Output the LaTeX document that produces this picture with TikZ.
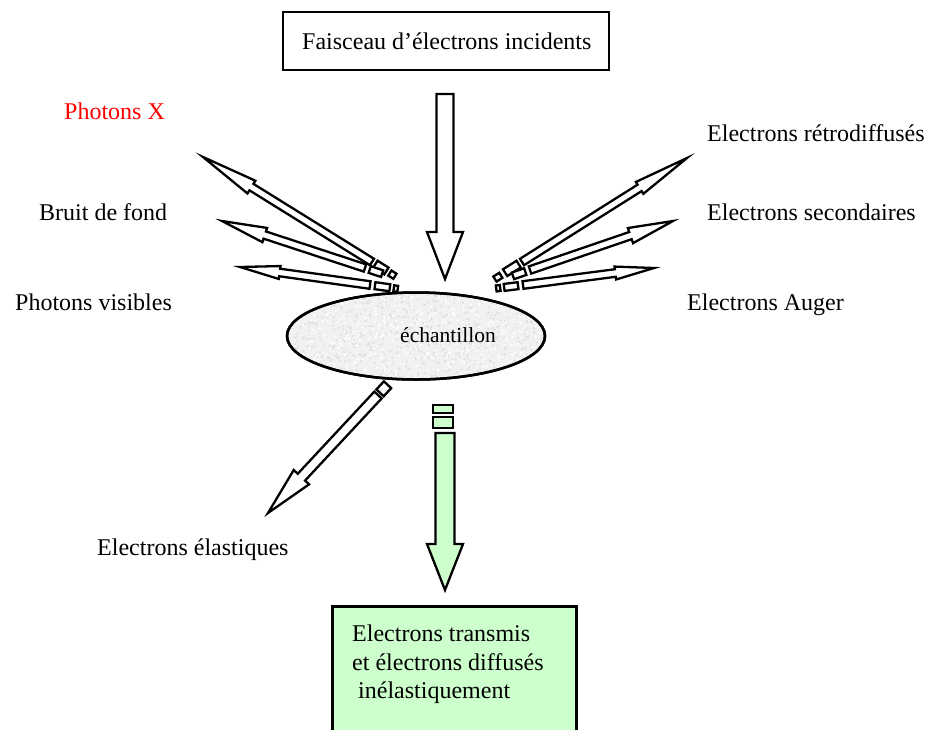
\documentclass[tikz,border=0pt]{standalone}
\usepackage{fontspec}
\setmainfont{Liberation Serif}
\usetikzlibrary{calc,shapes.geometric}
\definecolor{lightgreen}{HTML}{CCFFCC}
\tikzset{
  arr/.style={draw=black, line width=2.3pt, fill=white, line join=miter},
  garr/.style={arr, fill=lightgreen},
  lbl/.style={anchor=base west, inner sep=0pt, font=\fontsize{24}{29}\selectfont},
}
% block arrow: #2 start, #3 tip, #4 shaft half width, #5 head half width, #6 head length
\newcommand\blockarrow[6][arr]{%
  \coordinate (hb) at ($(#3)!#6!(#2)$);
  \path[#1] ($(#2)!#4!90:(#3)$) -- ($(hb)!#4!90:(#3)$) -- ($(hb)!#5!90:(#3)$) -- (#3)
    -- ($(hb)!#5!-90:(#3)$) -- ($(hb)!#4!-90:(#3)$) -- ($(#2)!#4!-90:(#3)$) -- cycle;}
% broken piece behind the start of an arrow: #2 start, #3 tip, #4 #5 distances, #6 half width
\newcommand\fragment[6][arr]{%
  \coordinate (fa) at ($(#2)!-#4!(#3)$);
  \coordinate (fb) at ($(#2)!-#5!(#3)$);
  \path[#1] ($(fa)!#6!90:(#3)$) -- ($(fb)!#6!90:(#3)$) -- ($(fb)!#6!-90:(#3)$) -- ($(fa)!#6!-90:(#3)$) -- cycle;}
\begin{document}
\begin{tikzpicture}[x=1pt,y=-1pt]
\useasboundingbox (0,0) rectangle (932,729);
% top box
\node[draw, line width=2.5pt, minimum width=326pt, minimum height=58pt, inner sep=0pt] (beam) at (446,41) {};
\node[lbl] (beamtxt) at (302,49) {Faisceau d’électrons incidents};
% sample
\node[ellipse, draw, line width=2.5pt, fill=gray!11, minimum width=258pt, minimum height=87pt, inner sep=0pt] (sample) at (416,336) {};
\begin{scope}
  \clip (416,336) ellipse [x radius=127, y radius=42];
  \pgfmathsetseed{7}
  \foreach \i in {1,...,700} {\fill[gray!26] ({416+127*rand},{336+42*rand}) circle (1.1pt);}
  \foreach \i in {1,...,600} {\fill[white] ({416+127*rand},{336+42*rand}) circle (1.1pt);}
\end{scope}
\draw[line width=2.5pt] (sample.center) ellipse [x radius=129, y radius=43.5];
\node[anchor=base west, inner sep=0pt, font=\fontsize{21.5}{26}\selectfont] (samptxt) at (400,342) {échantillon};
% incident arrow
\coordinate (m0) at (445,94);
\coordinate (m1) at (445,279);
\blockarrow{m0}{m1}{8.5pt}{18pt}{47pt}
% left arrows
\coordinate (xs) at (372,262); \coordinate (xt) at (203,157);
\coordinate (bs) at (365,268); \coordinate (bt) at (222,221);
\coordinate (vs) at (370,285); \coordinate (vt) at (240,267);
\blockarrow{xs}{xt}{3.8pt}{7.5pt}{57pt}
\fragment{xs}{xt}{4pt}{17pt}{4pt}
\fragment{xs}{xt}{21pt}{27pt}{3pt}
\blockarrow{bs}{bt}{3.8pt}{7.5pt}{45pt}
\fragment{bs}{bt}{5pt}{18pt}{3.5pt}
\blockarrow{vs}{vt}{3.8pt}{6.5pt}{40pt}
\fragment{vs}{vt}{5pt}{20pt}{3.5pt}
\fragment{vs}{vt}{24pt}{28pt}{3pt}
% right arrows
\coordinate (rs) at (522,262); \coordinate (rt) at (687,158);
\coordinate (ss) at (530,270); \coordinate (st) at (673,221);
\coordinate (as) at (523,285); \coordinate (at) at (654,268);
\blockarrow{rs}{rt}{3.8pt}{7pt}{56pt}
\fragment{rs}{rt}{4pt}{20pt}{4pt}
\fragment{rs}{rt}{25pt}{32pt}{3pt}
\blockarrow{ss}{st}{3.8pt}{8pt}{45pt}
\fragment{ss}{st}{5pt}{18pt}{3.5pt}
\blockarrow{as}{at}{3.8pt}{6.5pt}{39pt}
\fragment{as}{at}{5pt}{19pt}{3.5pt}
\fragment{as}{at}{23pt}{27pt}{3pt}
% elastic arrow
\coordinate (es) at (378,395); \coordinate (et) at (268,513);
\blockarrow{es}{et}{5pt}{10.5pt}{49pt}
\fragment{es}{et}{3pt}{14pt}{5pt}
% transmitted arrow
\path[garr] (433,405) rectangle (453,413);
\path[garr] (433,417) rectangle (453,428);
\coordinate (g0) at (445,433);
\coordinate (g1) at (445,590);
\blockarrow[garr]{g0}{g1}{9.5pt}{18pt}{46pt}
% transmitted box
\begin{scope}
  \clip (0,0) rectangle (932,729);
  \node[draw, line width=2.5pt, fill=lightgreen, anchor=north west, minimum width=244pt, minimum height=140pt, inner sep=0pt] (trans) at (331,605) {};
\end{scope}
\node[lbl] (t1) at (352,641) {Electrons transmis};
\node[lbl] (t2) at (352,670) {et électrons diffusés};
\node[lbl] (t3) at (358,698) {inélastiquement};
% labels
\node[lbl, text=red] (lx) at (64,119) {Photons X};
\node[lbl] (lb) at (39,220) {Bruit de fond};
\node[lbl] (lv) at (15,310) {Photons visibles};
\node[lbl] (lr) at (707,141) {Electrons rétrodiffusés};
\node[lbl] (ls) at (707,220) {Electrons secondaires};
\node[lbl] (la) at (687,310) {Electrons Auger};
\node[lbl] (le) at (97,555) {Electrons élastiques};
\end{tikzpicture}
\end{document}
